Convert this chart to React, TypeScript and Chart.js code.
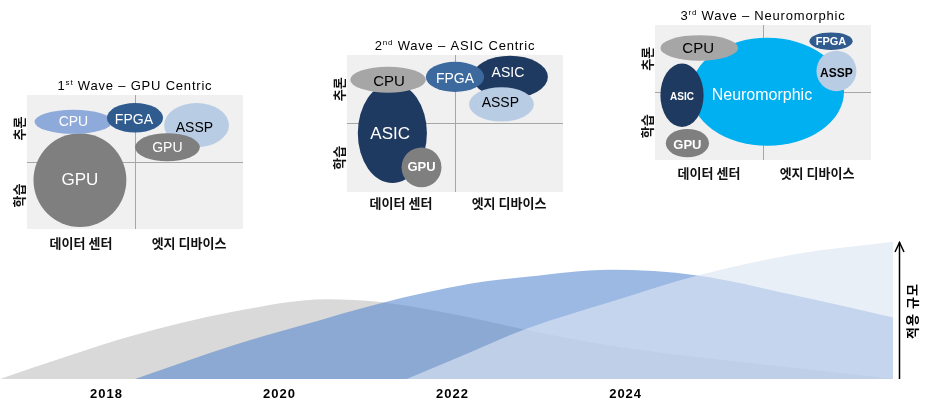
import React, { useEffect, useRef } from 'react';
import { Chart, registerables } from 'chart.js';

Chart.register(...registerables);

const LATIN = '"Liberation Sans", Arial, Helvetica, sans-serif';
const KOREAN = '"Noto Sans CJK KR", "Noto Sans", sans-serif';

// ---------- timeline (waves) ----------
const yearTicks = [2018, 2020, 2022, 2024];
const xMinYear = 2016.77;
const xMaxYear = 2027.09;
const wave1Years = [2016.77, 2017.54, 2018.31, 2019.46, 2020.55, 2021.16, 2022.2, 2022.86, 2023.82, 2024.78, 2025.93, 2027.09];
const wave1Values = [0, 16, 31, 48, 57, 55, 44, 35, 24, 16, 8, 0];
const wave2Years = [2018.33, 2019.46, 2020.24, 2021.16, 2022.2, 2022.86, 2023.82, 2024.83, 2025.94, 2027.09];
const wave2Values = [0, 24, 38, 54, 68, 73, 78, 74, 60, 44];
const wave3Years = [2021.47, 2022.2, 2022.86, 2023.82, 2024.83, 2025.94, 2027.09];
const wave3Values = [0, 19, 36, 55, 74, 89, 98];
const sizeAxisLabel = '적용 규모';

// ---------- quadrant diagrams ----------
const quadXLabels = ['데이터 센터', '엣지 디바이스'];
const quadYLabels = ['학습', '추론']; // bottom, top

const q1Title = ['1', 'st', ' Wave – GPU Centric'];
const q1Chips = ['GPU', 'CPU', 'FPGA', 'ASSP', 'GPU'];
const q1X = [-51, -57, 0, 57, 30];
const q1Y = [-27, 60, 66, 55, 22];
const q1RX = [43, 36, 26, 30, 30];
const q1RY = [70, 18, 22, 33, 21];
const q1TextX = [-51, -57, -1, 55, 30];
const q1TextY = [-27, 60, 63, 52, 21];
const q1Colors = ['#7f7f7f', '#8eaadb', '#2f5b8f', '#b8cce4', '#7f7f7f'];
const q1TextColors = ['#ffffff', '#ffffff', '#ffffff', '#000000', '#ffffff'];
const q1FontSizes = [17, 14, 14, 14, 14];
const q1Weights = ['normal', 'normal', 'normal', 'normal', 'normal'];

const q2Title = ['2', 'nd', ' Wave – ASIC Centric'];
const q2Chips = ['ASIC', 'GPU', 'CPU', 'ASIC', 'FPGA', 'ASSP'];
const q2X = [-58, -31, -62, 51, 0, 43];
const q2Y = [-14, -64, 64, 68, 68, 28];
const q2RX = [32, 18.5, 35, 35, 27, 30];
const q2RY = [73, 29, 19, 31, 22, 25];
const q2TextX = [-60, -31, -61, 49, 0, 42];
const q2TextY = [-15, -64, 62, 74, 66, 30];
const q2Colors = ['#1f3a60', '#7f7f7f', '#a6a6a6', '#1f3a60', '#3d6a9e', '#b8cce4'];
const q2TextColors = ['#ffffff', '#ffffff', '#000000', '#ffffff', '#ffffff', '#000000'];
const q2FontSizes = [17, 13, 15, 14, 14, 14];
const q2Weights = ['normal', 'bold', 'normal', 'normal', 'normal', 'normal'];

const q3Title = ['3', 'rd', ' Wave – Neuromorphic'];
const q3Chips = ['Neuromorphic', 'CPU', 'ASIC', 'GPU', 'FPGA', 'ASSP'];
const q3X = [4, -59, -75, -70, 63, 68];
const q3Y = [1, 66, -4, -75, 76, 32];
const q3RX = [71, 36, 20, 20, 20, 18.5];
const q3RY = [80, 19, 47, 21, 13, 30];
const q3TextX = [-1, -60, -75, -70, 63, 68];
const q3TextY = [-4, 66, -7, -78, 76, 29];
const q3Colors = ['#00b0f0', '#a6a6a6', '#1f3a60', '#7f7f7f', '#2f5b8f', '#b8cce4'];
const q3TextColors = ['#ffffff', '#000000', '#ffffff', '#ffffff', '#ffffff', '#000000'];
const q3FontSizes = [16, 15, 10, 13, 11, 12];
const q3Weights = ['normal', 'normal', 'bold', 'bold', 'bold', 'bold'];

type QuadProps = {
  left: number; top: number; width: number; height: number;
  padLeft: number; padRight: number; padTop: number; axisHeight: number; labelPad: number;
  title: string[]; chips: string[]; xs: number[]; ys: number[]; rxs: number[]; rys: number[];
  textX: number[]; textY: number[]; colors: string[]; textColors: string[]; fontSizes: number[]; weights: string[];
};

function makeQuadPlugin(p: QuadProps) {
  return {
    id: 'quadDraw',
    beforeDraw(chart: any) {
      const { ctx, chartArea: a } = chart;
      ctx.save();
      ctx.fillStyle = '#f0f0f0';
      ctx.fillRect(a.left, a.top, a.right - a.left, a.bottom - a.top);
      ctx.restore();
    },
    afterDatasetsDraw(chart: any) {
      const { ctx } = chart;
      const xs = chart.scales.x;
      const ys = chart.scales.y;
      const data = chart.data.datasets[0].data as any[];
      ctx.save();
      data.forEach((d, i) => {
        const cx = xs.getPixelForValue(d.x);
        const cy = ys.getPixelForValue(d.y);
        const rx = Math.abs(xs.getPixelForValue(d.x + d.rx) - cx);
        const ry = Math.abs(ys.getPixelForValue(d.y + d.ry) - cy);
        ctx.beginPath();
        ctx.ellipse(cx, cy, rx, ry, 0, 0, Math.PI * 2);
        ctx.fillStyle = p.colors[i];
        ctx.fill();
      });
      ctx.textAlign = 'center';
      ctx.textBaseline = 'middle';
      data.forEach((d, i) => {
        ctx.font = `${p.weights[i]} ${p.fontSizes[i]}px ${LATIN}`;
        ctx.fillStyle = p.textColors[i];
        ctx.fillText(d.label, xs.getPixelForValue(d.tx), ys.getPixelForValue(d.ty) + 0.5);
      });
      ctx.restore();
    },
    afterDraw(chart: any) {
      const { ctx, chartArea: a } = chart;
      const ys = chart.scales.y;
      ctx.save();
      ctx.font = `bold 13px ${KOREAN}`;
      ctx.fillStyle = '#111111';
      ctx.textAlign = 'center';
      ctx.textBaseline = 'middle';
      [-50, 50].forEach((v, i) => {
        ctx.save();
        ctx.translate(a.left - 8, ys.getPixelForValue(v));
        ctx.rotate(-Math.PI / 2);
        ctx.fillText(quadYLabels[i], 0, 0);
        ctx.restore();
      });
      (ctx as any).letterSpacing = '0.8px';
      const mainFont = `13px ${LATIN}`;
      const supFont = `8px ${LATIN}`;
      ctx.font = mainFont;
      const w0 = ctx.measureText(p.title[0]).width;
      const w2 = ctx.measureText(p.title[2]).width;
      ctx.font = supFont;
      const w1 = ctx.measureText(p.title[1]).width;
      const total = w0 + w1 + w2;
      let x = (a.left + a.right) / 2 - total / 2;
      const y = a.top - 9;
      ctx.textAlign = 'left';
      ctx.textBaseline = 'middle';
      ctx.fillStyle = '#000000';
      ctx.font = mainFont;
      ctx.fillText(p.title[0], x, y);
      x += w0;
      ctx.font = supFont;
      ctx.fillText(p.title[1], x, y - 3);
      x += w1;
      ctx.font = mainFont;
      ctx.fillText(p.title[2], x, y);
      ctx.restore();
    },
  };
}

const gridColor = (c: any) => (c.tick && c.tick.value === 0 ? '#a6a6a6' : 'rgba(0,0,0,0)');

function QuadChart(p: QuadProps) {
  const ref = useRef<HTMLCanvasElement>(null);
  useEffect(() => {
    const data = p.xs.map((x, i) => ({
      x, y: p.ys[i], rx: p.rxs[i], ry: p.rys[i], tx: p.textX[i], ty: p.textY[i], label: p.chips[i],
    }));
    const chart = new Chart(ref.current as HTMLCanvasElement, {
      type: 'scatter',
      data: { datasets: [{ data, pointRadius: 0, pointHoverRadius: 0 } as any] },
      options: {
        responsive: false,
        animation: false,
        devicePixelRatio: 1,
        events: [],
        layout: { padding: { left: p.padLeft, right: p.padRight, top: p.padTop, bottom: 0 } },
        plugins: { legend: { display: false }, tooltip: { enabled: false }, title: { display: false } },
        scales: {
          x: {
            type: 'linear', min: -100, max: 100,
            afterBuildTicks: (ax: any) => { ax.ticks = [-50, 0, 50].map((value) => ({ value })); },
            afterFit: (ax: any) => { ax.height = p.axisHeight; },
            ticks: {
              callback: (v: any) => (v === -50 ? quadXLabels[0] : v === 50 ? quadXLabels[1] : ''),
              font: { family: KOREAN, size: 13, weight: 'bold' },
              color: '#111111', padding: p.labelPad, maxRotation: 0, minRotation: 0, autoSkip: false,
            },
            grid: { color: gridColor, drawTicks: false, lineWidth: 1 },
            border: { display: false },
          },
          y: {
            type: 'linear', min: -100, max: 100,
            afterBuildTicks: (ax: any) => { ax.ticks = [-50, 0, 50].map((value) => ({ value })); },
            afterFit: (ax: any) => { ax.width = 0; },
            ticks: { display: false },
            grid: { color: gridColor, drawTicks: false, lineWidth: 1 },
            border: { display: false },
          },
        },
      } as any,
      plugins: [makeQuadPlugin(p)],
    });
    return () => chart.destroy();
  }, []);
  return (
    <div style={{ position: 'absolute', left: p.left, top: p.top, width: p.width, height: p.height }}>
      <canvas ref={ref} width={p.width} height={p.height} style={{ display: 'block', width: p.width, height: p.height }} />
    </div>
  );
}

const timelinePlugin = {
  id: 'timelineExtras',
  beforeDraw(chart: any) {
    (chart.ctx as any).letterSpacing = '1px';
  },
  afterDraw(chart: any) {
    const { ctx, chartArea: a } = chart;
    ctx.save();
    const ax = a.right + 6.5;
    ctx.strokeStyle = '#000000';
    ctx.lineWidth = 1.5;
    ctx.beginPath();
    ctx.moveTo(ax, a.bottom);
    ctx.lineTo(ax, a.top + 3);
    ctx.stroke();
    ctx.beginPath();
    ctx.moveTo(ax - 4.5, a.top + 13);
    ctx.lineTo(ax, a.top + 3.5);
    ctx.lineTo(ax + 4.5, a.top + 13);
    ctx.stroke();
    ctx.translate(a.right + 19, (a.top + a.bottom) / 2 + 2);
    ctx.rotate(-Math.PI / 2);
    (ctx as any).letterSpacing = '1px';
    ctx.font = `bold 13px ${KOREAN}`;
    ctx.fillStyle = '#000000';
    ctx.textAlign = 'center';
    ctx.textBaseline = 'middle';
    ctx.fillText(sizeAxisLabel, 0, 0);
    ctx.restore();
  },
};

function Timeline() {
  const ref = useRef<HTMLCanvasElement>(null);
  useEffect(() => {
    const common = {
      fill: 'origin', borderColor: 'rgba(0,0,0,0)', borderWidth: 1, pointRadius: 0, pointHoverRadius: 0,
      tension: 0.4, cubicInterpolationMode: 'monotone',
    };
    const chart = new Chart(ref.current as HTMLCanvasElement, {
      type: 'line',
      data: {
        datasets: [
          { ...common, label: '3rd', data: wave3Years.map((x, i) => ({ x, y: wave3Values[i] })), backgroundColor: 'rgba(220,230,242,0.63)' } as any,
          { ...common, label: '2nd', data: wave2Years.map((x, i) => ({ x, y: wave2Values[i] })), backgroundColor: 'rgba(79,132,206,0.57)' } as any,
          { ...common, label: '1st', data: wave1Years.map((x, i) => ({ x, y: wave1Values[i] })), backgroundColor: '#d9d9d9' } as any,
        ],
      },
      options: {
        responsive: false,
        animation: false,
        devicePixelRatio: 1,
        events: [],
        layout: { padding: { left: 0, right: 37, top: 9, bottom: 0 } },
        plugins: { legend: { display: false }, tooltip: { enabled: false } },
        scales: {
          x: {
            type: 'linear', min: xMinYear, max: xMaxYear,
            afterBuildTicks: (ax: any) => { ax.ticks = yearTicks.map((value) => ({ value })); },
            afterFit: (ax: any) => { ax.height = 22; },
            ticks: {
              callback: (v: any) => String(v),
              font: { family: LATIN, size: 13, weight: 'bold' },
              color: '#000000', padding: 0, maxRotation: 0, minRotation: 0, autoSkip: false,
            },
            grid: { display: false },
            border: { display: false },
          },
          y: { display: false, min: 0, max: 100 },
        },
      } as any,
      plugins: [timelinePlugin],
    });
    return () => chart.destroy();
  }, []);
  return (
    <div style={{ position: 'absolute', left: 0, top: 230, width: 930, height: 171 }}>
      <canvas ref={ref} width={930} height={171} style={{ display: 'block', width: 930, height: 171 }} />
    </div>
  );
}

export default function App() {
  return (
    <div style={{ position: 'absolute', left: 0, top: 0, width: 930, height: 401, background: '#ffffff', overflow: 'hidden' }}>
      <Timeline />
      <QuadChart left={0} top={70} width={260} height={190} padLeft={27} padRight={17} padTop={25} axisHeight={31} labelPad={6}
        title={q1Title} chips={q1Chips} xs={q1X} ys={q1Y} rxs={q1RX} rys={q1RY} textX={q1TextX} textY={q1TextY}
        colors={q1Colors} textColors={q1TextColors} fontSizes={q1FontSizes} weights={q1Weights} />
      <QuadChart left={320} top={30} width={260} height={190} padLeft={27} padRight={17} padTop={25} axisHeight={28} labelPad={3}
        title={q2Title} chips={q2Chips} xs={q2X} ys={q2Y} rxs={q2RX} rys={q2RY} textX={q2TextX} textY={q2TextY}
        colors={q2Colors} textColors={q2TextColors} fontSizes={q2FontSizes} weights={q2Weights} />
      <QuadChart left={630} top={0} width={260} height={190} padLeft={25} padRight={19} padTop={25} axisHeight={30} labelPad={5}
        title={q3Title} chips={q3Chips} xs={q3X} ys={q3Y} rxs={q3RX} rys={q3RY} textX={q3TextX} textY={q3TextY}
        colors={q3Colors} textColors={q3TextColors} fontSizes={q3FontSizes} weights={q3Weights} />
    </div>
  );
}
